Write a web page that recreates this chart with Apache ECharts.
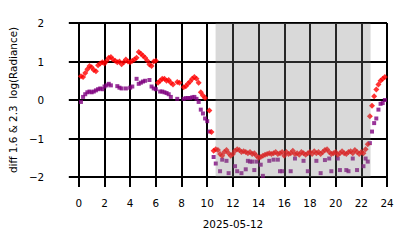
<!DOCTYPE html>
<html><head><meta charset="utf-8">
<script src="https://cdn.jsdelivr.net/npm/echarts@6/dist/echarts.min.js"></script>
<style>html,body{margin:0;padding:0;background:#fff}#main{width:414px;height:248px}</style>
</head><body><div id="main"></div>
<script>
// minutes of the day (2025-05-12)
const minutes = [
  10,20,30,40,50,60,70,80,90,100,110,120,
  130,140,150,160,170,180,190,200,210,220,230,240,
  250,260,270,280,290,300,310,320,330,340,350,360,
  370,380,390,400,410,420,430,440,450,460,470,480,
  490,500,510,520,530,540,550,560,570,580,590,600,
  610,620,630,640,650,660,670,680,690,700,710,720,
  730,740,750,760,770,780,790,800,810,820,830,840,
  850,860,870,880,890,900,910,920,930,940,950,960,
  970,980,990,1000,1010,1020,1030,1040,1050,1060,1070,1080,
  1090,1100,1110,1120,1130,1140,1150,1160,1170,1180,1190,1200,
  1210,1220,1230,1240,1250,1260,1270,1280,1290,1300,1310,1320,
  1330,1340,1350,1360,1370,1380,1390,1400,1410,1420,1430
];
// red diamonds
const redVals = [
  0.62,0.60,0.70,0.80,0.88,0.85,0.78,0.75,0.90,0.95,0.98,0.95,
  1.02,1.10,1.12,1.05,1.02,0.98,1.00,0.93,0.98,1.05,1.00,0.98,
  1.02,1.05,1.10,1.25,1.20,1.15,1.10,1.02,0.92,0.88,1.00,1.02,
  0.45,0.50,0.55,0.55,0.50,0.52,0.45,0.40,null,0.47,0.45,null,
  0.33,0.36,0.42,0.48,0.55,0.60,0.55,0.45,0.20,0.12,0.05,null,
  -0.27,-0.83,-1.32,-1.28,-1.30,-1.40,-1.45,-1.35,-1.30,-1.38,-1.45,-1.40,
  -1.32,-1.28,-1.30,-1.35,-1.33,-1.35,-1.38,-1.35,-1.40,-1.38,-1.45,-1.50,
  -1.48,-1.45,-1.42,-1.40,-1.38,-1.40,-1.38,-1.35,-1.40,-1.38,-1.35,-1.45,
  -1.35,-1.40,-1.38,-1.32,-1.40,-1.38,-1.42,-1.35,-1.38,-1.42,-1.38,-1.35,
  -1.40,-1.33,-1.38,-1.35,-1.40,-1.35,-1.30,-1.28,-1.35,-1.40,-1.38,-1.35,
  -1.42,-1.38,-1.33,-1.38,-1.40,-1.35,-1.33,-1.38,-1.30,-1.35,-1.40,-1.35,
  -1.38,-1.28,-1.15,-0.42,-0.15,0.10,0.27,0.40,0.50,0.55,0.60
];
// purple squares
const purpleVals = [
  -0.05,0.08,0.15,0.20,0.22,0.20,0.22,0.25,0.28,0.30,0.28,0.35,
  0.38,0.42,0.38,null,null,0.36,0.32,0.30,null,0.30,null,0.32,
  0.35,null,0.55,0.42,0.45,0.48,0.50,null,0.52,0.35,0.30,0.28,
  null,0.22,0.22,0.20,0.18,0.15,0.08,null,null,0.03,null,null,
  0.03,0.05,0.05,0.05,0.07,0.08,0.03,-0.05,-0.25,-0.35,-0.48,-0.55,
  -0.82,null,-1.48,-1.65,null,-1.85,-1.55,null,-1.58,-1.90,null,null,
  -1.72,-1.85,null,-1.90,null,-1.80,-1.58,-1.60,-1.60,-1.82,-1.60,null,
  -1.68,-1.97,null,null,-1.58,null,-1.55,null,-1.55,-1.85,-1.85,null,
  null,null,-1.85,null,-1.52,null,null,null,-1.58,null,-1.85,null,
  null,null,-1.58,null,-1.90,null,-1.56,null,-1.52,-1.85,null,null,
  -1.52,-1.82,null,null,-1.82,-1.85,null,-1.52,null,-1.82,null,null,
  -1.72,-1.52,-1.60,-1.12,-0.82,-0.60,-0.48,-0.25,-0.10,-0.08,0.00
];
const xTicks = [0,2,4,6,8,10,12,14,16,18,20,22,24];
const yTicks = [-2,-1,0,1,2];
const dateLabel = '2025-05-12';
const yTitle = 'diff 1.6 & 2.3  log(Radiance)';
const nightStart = 10.65;
const nightEnd = 22.72;

function pairs(vals){
  const out = [];
  minutes.forEach((m,i)=>{ if(vals[i]!==null && vals[i]!==undefined) out.push([m/60, vals[i]]); });
  return out;
}
const font = 'DejaVu Sans';
const fs = 10.4;
function axisParts(){
  return {
    axisLine:{show:true, onZero:false, lineStyle:{color:'#000', width:2}},
    axisTick:{show:true, inside:false, length:10, lineStyle:{color:'#000', width:2}},
    splitLine:{show:true, showMinLine:true, showMaxLine:true, lineStyle:{color:'#000', width:2}}
  };
}
const option = {
  animation:false,
  backgroundColor:'#fff',
  grid:{left:77, right:27, top:23, bottom:71, containLabel:false},
  xAxis: Object.assign(axisParts(), {
    type:'value', min:xTicks[0], max:xTicks[xTicks.length-1], interval:xTicks[1]-xTicks[0],
    axisLabel:{margin:21, color:'#000', fontFamily:font, fontSize:fs, showMinLabel:true, showMaxLabel:true},
    name: dateLabel, nameLocation:'middle', nameGap:42,
    nameTextStyle:{color:'#000', fontFamily:font, fontSize:fs}
  }),
  yAxis: Object.assign(axisParts(), {
    type:'value', min:yTicks[0], max:yTicks[yTicks.length-1], interval:yTicks[1]-yTicks[0],
    axisLabel:{margin:19, color:'#000', fontFamily:font, fontSize:fs,
      formatter:v=> (v<0 ? '\u2212'+Math.abs(v) : String(v)) + '\u2002\u2002\u2002'},
    name: yTitle, nameLocation:'middle', nameGap:47, nameRotate:90,
    nameTextStyle:{color:'#000', fontFamily:font, fontSize:fs}
  }),
  series:[
    {type:'scatter', name:'purple', data:pairs(purpleVals), symbol:'rect', symbolSize:4,
     itemStyle:{color:'#800080'}, z:2, silent:true},
    {type:'scatter', name:'red', data:pairs(redVals), symbol:'diamond', symbolSize:6,
     itemStyle:{color:'#ff0000'}, z:2, silent:true},
    {type:'scatter', name:'night', data:[], z:3, silent:true,
     markArea:{silent:true, z:3, itemStyle:{color:'rgba(128,128,128,0.3)'},
       data:[[{xAxis:nightStart, yAxis:yTicks[0]},{xAxis:nightEnd, yAxis:yTicks[yTicks.length-1]}]]}}
  ]
};
const chart = echarts.init(document.getElementById('main'), null, {renderer:'svg'});
chart.setOption(option);
</script>
</body></html>
